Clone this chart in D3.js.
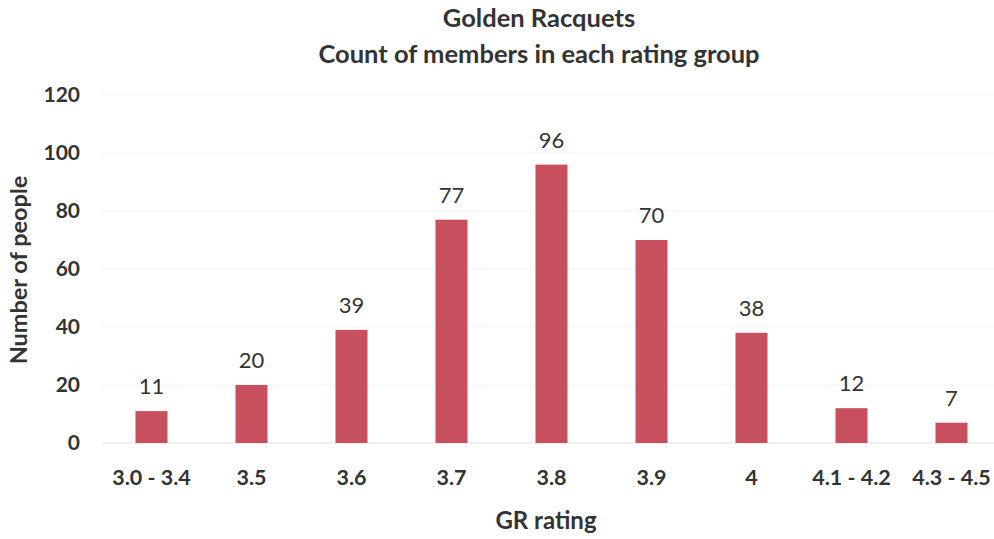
<!DOCTYPE html>
<html><head><meta charset="utf-8">
<script src="https://cdn.jsdelivr.net/npm/d3@7"></script>
<style>body{margin:0;background:#fff}svg{display:block}text{font-family:Lato,"Open Sans",sans-serif;fill:#333}</style>
</head><body><svg id="c" width="994" height="539"></svg>
<script>
const categories = ["3.0 - 3.4","3.5","3.6","3.7","3.8","3.9","4","4.1 - 4.2","4.3 - 4.5"];
const counts = [11,20,39,77,96,70,38,12,7];
const yTicks = [0,20,40,60,80,100,120];
const titleLines = ["Golden Racquets","Count of members in each rating group"];

const svg = d3.select("#c");
const x = d3.scaleBand().domain(categories).range([101.5,1001.5]).paddingInner(0.68).paddingOuter(0.34);
const y = d3.scaleLinear().domain([0,120]).range([443,95]);

svg.append("g").selectAll("line").data(yTicks).join("line")
  .attr("x1",102).attr("x2",994).attr("y1",d=>y(d)).attr("y2",d=>y(d))
  .attr("stroke",d=>d===0?"#e2e2e2":"#f2f2f2").attr("stroke-width",1.2);

svg.append("g").selectAll("text").data(yTicks).join("text")
  .attr("x",80).attr("y",d=>y(d)+7).attr("text-anchor","end")
  .attr("font-size",21).attr("font-weight","bold").text(d=>d);

svg.append("g").selectAll("rect").data(counts).join("rect")
  .attr("x",(d,i)=>x(categories[i])).attr("width",x.bandwidth())
  .attr("y",d=>y(d)).attr("height",d=>y(0)-y(d)).attr("fill","#c84f5d");

svg.append("g").selectAll("text").data(counts).join("text")
  .attr("x",(d,i)=>x(categories[i])+x.bandwidth()/2).attr("y",d=>y(d)-17)
  .attr("text-anchor","middle").attr("font-size",22).text(d=>d);

svg.append("g").selectAll("text").data(categories).join("text")
  .attr("x",d=>x(d)+x.bandwidth()/2).attr("y",485).attr("text-anchor","middle")
  .attr("font-size",21.5).attr("font-weight","bold").text(d=>d);

svg.append("g").selectAll("text").data(titleLines).join("text")
  .attr("x",539).attr("y",(d,i)=>27+i*36).attr("text-anchor","middle")
  .attr("font-size",25.5).attr("font-weight","bold").text(d=>d);

svg.append("text").attr("x",546).attr("y",529).attr("text-anchor","middle")
  .attr("font-size",24).attr("font-weight","bold").text("GR rating");

svg.append("text").attr("transform","translate(27,270) rotate(-90)").attr("text-anchor","middle")
  .attr("font-size",23.5).attr("font-weight","bold").text("Number of people");
</script></body></html>
